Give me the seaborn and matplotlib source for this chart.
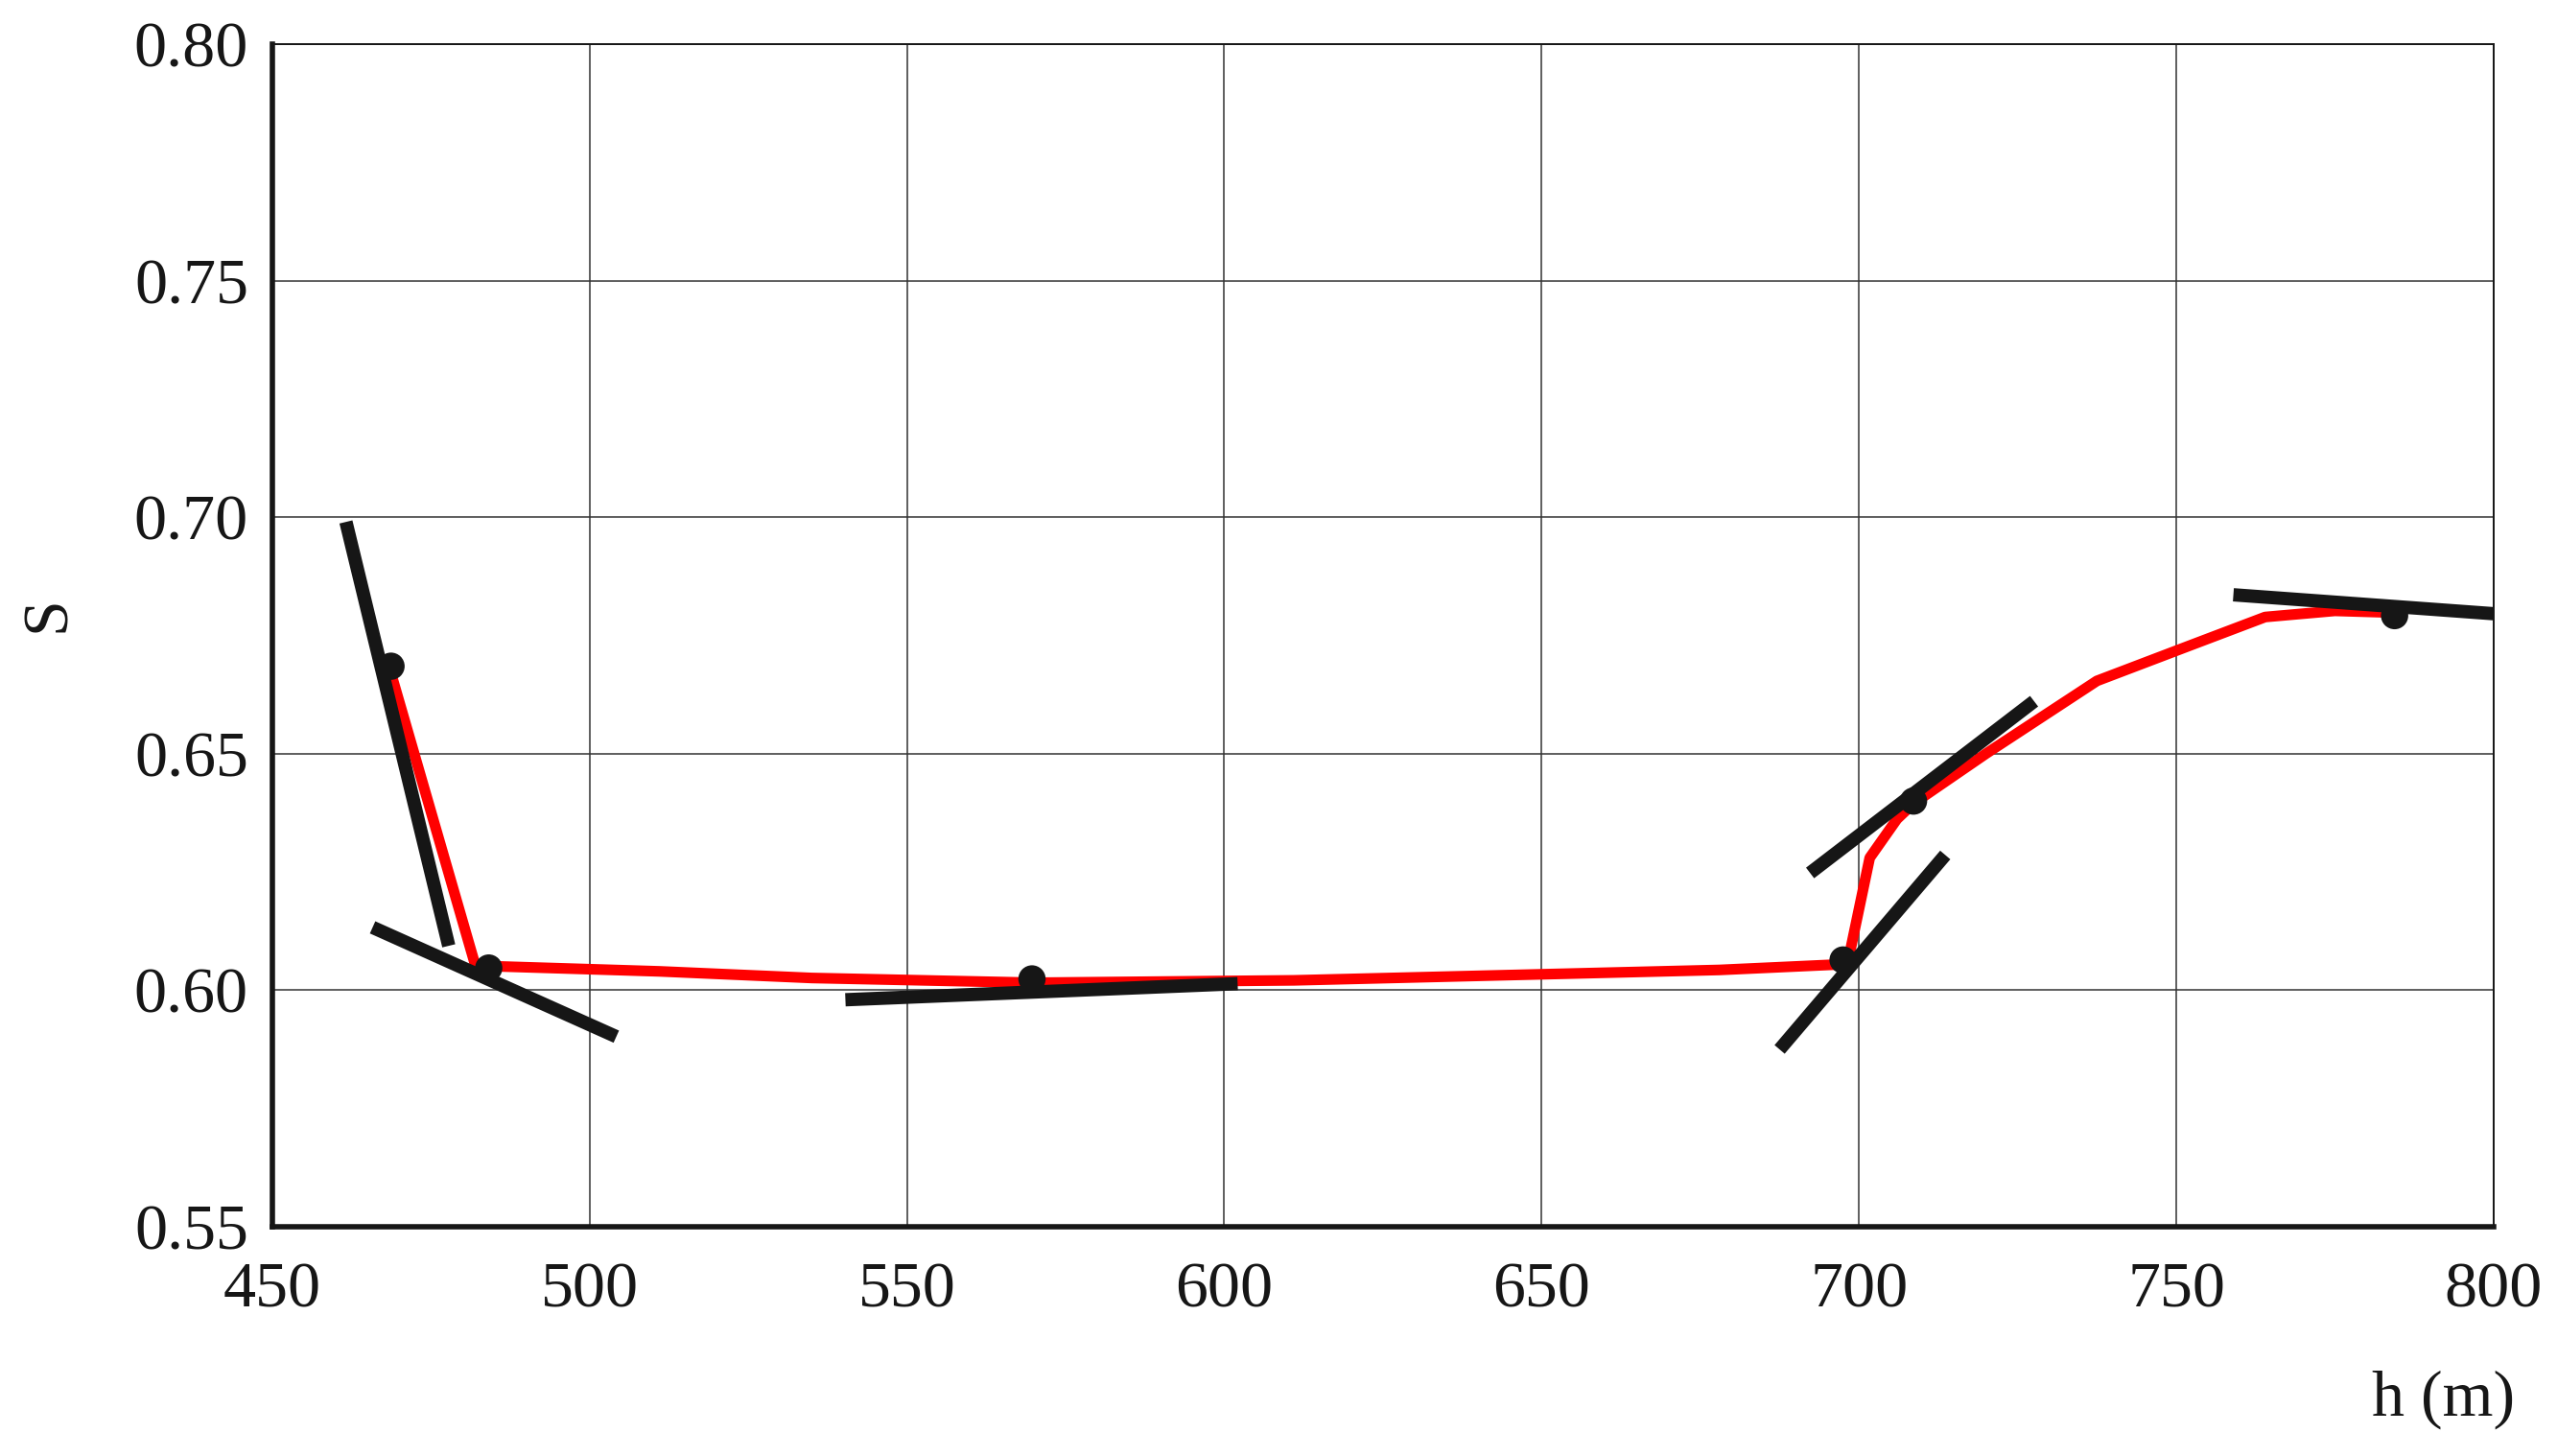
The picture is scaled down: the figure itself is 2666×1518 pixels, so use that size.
import matplotlib
matplotlib.use("Agg")
import matplotlib.pyplot as plt
import numpy as np
import pandas as pd
import seaborn as sns

# red curve S(h)
curve_h = [468.7, 482.0, 511.0, 535.0, 570.0, 611.0, 678.0, 697.5, 698.7, 701.7,
           706.0, 708.6, 720.0, 737.5, 752.0, 764.0, 775.0, 782.5]
curve_s = [0.667, 0.6052, 0.6040, 0.6026, 0.6016, 0.6021, 0.6043, 0.6055, 0.6088, 0.628,
           0.6362, 0.6395, 0.650, 0.6654, 0.6728, 0.6789, 0.6802, 0.6799]

# marked points
dot_h = [468.7, 484.1, 569.7, 697.5, 708.6, 784.4]
dot_s = [0.6685, 0.6047, 0.6024, 0.6064, 0.640, 0.6792]

# tangent segments (start, end)
tan_h0 = [461.6, 465.8, 540.3, 687.5, 692.3, 759.0]
tan_s0 = [0.699, 0.6133, 0.598, 0.5875, 0.6248, 0.6836]
tan_h1 = [477.8, 504.2, 602.1, 713.6, 727.6, 800.0]
tan_s1 = [0.6094, 0.5902, 0.6014, 0.6286, 0.6611, 0.6796]

x_ticks = [450, 500, 550, 600, 650, 700, 750, 800]
y_ticks = [0.55, 0.60, 0.65, 0.70, 0.75, 0.80]

sns.set_theme(style="white")
plt.rcParams["font.family"] = ["Liberation Serif", "DejaVu Serif"]

fig = plt.figure(figsize=(26.66, 15.18), dpi=100)
ax = fig.add_axes([0.1065, 0.1574, 0.8687, 0.8123])

curve = pd.DataFrame({"h": curve_h, "S": curve_s})
sns.lineplot(data=curve, x="h", y="S", sort=False, estimator=None, color="#ff0000",
             lw=8, ax=ax, zorder=3)

for i in range(len(tan_h0)):
    seg = pd.DataFrame({"h": [tan_h0[i], tan_h1[i]], "S": [tan_s0[i], tan_s1[i]]})
    sns.lineplot(data=seg, x="h", y="S", sort=False, estimator=None, color="#161616",
                 lw=10, ax=ax, zorder=4, solid_capstyle="butt")

dots = pd.DataFrame({"h": dot_h, "S": dot_s})
sns.scatterplot(data=dots, x="h", y="S", color="#161616", s=420, edgecolor="none",
                ax=ax, zorder=5)

ax.set_xlim(450, 800)
ax.set_ylim(0.55, 0.80)
ax.set_xticks(x_ticks)
ax.set_yticks(y_ticks)
ax.set_xticklabels([str(t) for t in x_ticks])
ax.set_yticklabels([f"{t:.2f}" for t in y_ticks])
ax.tick_params(axis="both", length=0, labelsize=49, colors="#161616")
ax.tick_params(axis="y", pad=18)
ax.tick_params(axis="x", pad=26)
ax.grid(True, color="#333333", lw=1.1)
ax.set_axisbelow(True)

for side in ["left", "bottom"]:
    ax.spines[side].set_linewidth(4)
    ax.spines[side].set_color("#161616")
for side in ["top", "right"]:
    ax.spines[side].set_linewidth(1.4)
    ax.spines[side].set_color("#161616")

ax.set_xlabel("")
ax.set_ylabel("")
fig.text(0.9835, 0.039, "h (m)", ha="right", va="center", fontsize=49, color="#161616")
fig.text(0.019, 0.578, "S", ha="center", va="center", rotation=90, fontsize=49,
         color="#161616")

fig.savefig("out.png", dpi=100, facecolor="white")
